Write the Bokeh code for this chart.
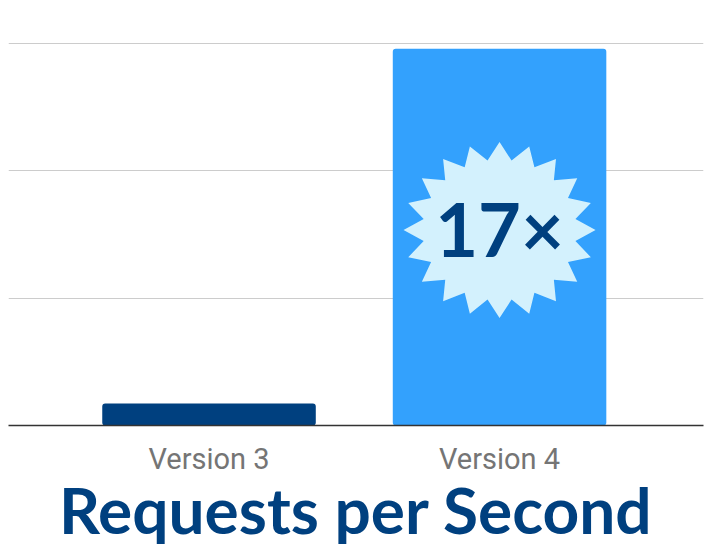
import numpy as np
from bokeh.plotting import figure
from bokeh.models import FixedTicker, ColumnDataSource
from bokeh.core.properties import value
from bokeh.embed import file_html
from bokeh.resources import INLINE

# data
categories = ["Version 3", "Version 4"]
positions = [1, 2]
requests = [0.173, 2.96]
bar_colors = ["#00407f", "#33a1fd"]
grid_ticks = [1, 2, 3]
badge_text = "17×"
chart_title = "Requests per Second"

p = figure(width=717, height=550, output_backend="svg", toolbar_location=None,
           x_range=(0.3098, 2.702), y_range=(0, 3.181), y_axis_location=None,
           min_border_left=8, min_border_right=14, min_border_top=20, min_border_bottom=125)
p.outline_line_color = None
p.background_fill_color = "white"
p.border_fill_color = "white"

src = ColumnDataSource(dict(x=positions, top=requests, color=bar_colors))
p.vbar(x="x", top="top", width=0.735, bottom=0, color="color", source=src,
       line_color=None, border_radius=3)

# starburst badge on the tall bar
cx, cy = positions[1], 1.535
n = 20
ang = np.linspace(0, 2 * np.pi, 2 * n, endpoint=False)
r = np.where(np.arange(2 * n) % 2 == 0, 1.0, 0.8)
rx, ry = 0.3305, 0.691
xs = cx + rx * r * np.sin(ang)
ys = cy + ry * r * np.cos(ang)
p.patch(xs, ys, fill_color="#d3f1fd", line_color=None)
p.text(x=[cx], y=[1.55], text=[badge_text], text_align="center", text_baseline="middle",
       text_font=value("Lato"), text_font_style="bold", text_font_size="74px",
       text_color="#00407f")

p.xgrid.grid_line_color = None
p.ygrid.ticker = FixedTicker(ticks=grid_ticks)
p.ygrid.grid_line_color = "#cccccc"
p.ygrid.grid_line_width = 1

ax = p.xaxis[0]
ax.ticker = FixedTicker(ticks=positions)
ax.major_label_overrides = {pos: c for pos, c in zip(positions, categories)}
ax.major_tick_line_color = None
ax.minor_tick_line_color = None
ax.major_tick_out = 0
ax.major_tick_in = 0
ax.axis_line_color = "#333333"
ax.axis_line_width = 1.5
ax.major_label_standoff = 16
ax.major_label_text_font = "Roboto"
ax.major_label_text_font_size = "29px"
ax.major_label_text_color = "#757575"
ax.axis_label = chart_title
ax.axis_label_standoff = -8
ax.axis_label_text_font = "Lato"
ax.axis_label_text_font_style = "bold"
ax.axis_label_text_font_size = "64px"
ax.axis_label_text_color = "#00407f"

open("out.html", "w").write(file_html(p, INLINE))
